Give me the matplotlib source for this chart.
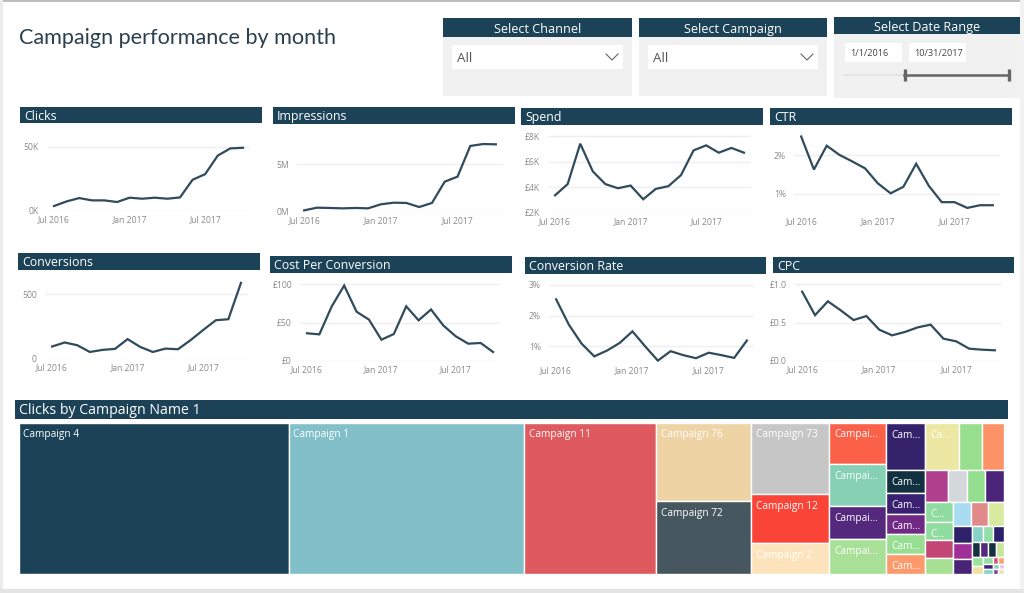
import matplotlib
matplotlib.use("Agg")
import matplotlib.pyplot as plt
from matplotlib.patches import Rectangle

plt.rcParams['font.family'] = ['Open Sans', 'DejaVu Sans']

W, H = 1024, 593
NAVY = "#1c4257"
LINE = "#2f4b5c"
GRID = "#efefef"
TICK = "#8a8a8a"

months = list(range(16))
month_ticks = [0, 6, 12]
month_labels = ["Jul 2016", "Jan 2017", "Jul 2017"]

clicks = [3.9, 7.5, 10.1, 8.3, 8.3, 7.0, 10.4, 9.6, 10.4, 9.6, 10.6, 24.4, 28.8, 43.3, 48.9, 49.4]
impressions = [0.17, 0.45, 0.42, 0.38, 0.42, 0.38, 0.8, 0.97, 0.94, 0.52, 0.94, 3.16, 3.68, 6.88, 7.08, 7.05]
spend = [3.38, 4.25, 7.4, 5.24, 4.25, 3.93, 4.14, 3.07, 3.88, 4.09, 4.95, 6.88, 7.27, 6.7, 7.07, 6.7]
ctr = [2.49, 1.63, 2.25, 2.01, 1.84, 1.66, 1.27, 1.01, 1.18, 1.78, 1.2, 0.78, 0.78, 0.63, 0.7, 0.7]
conversions = [96, 127, 106, 54, 70, 78, 153, 93, 54, 80, 75, 145, 223, 298, 306, 585]
cost_per_conv = [36, 34.6, 71, 98, 64, 53.7, 27.7, 35, 71, 52.8, 66.9, 46, 32, 22.5, 23.4, 11.7]
conv_rate = [2.53, 1.7, 1.08, 0.66, 0.85, 1.1, 1.48, 0.99, 0.52, 0.83, 0.7, 0.6, 0.78, 0.7, 0.61, 1.18]
cpc = [0.9, 0.595, 0.775, 0.658, 0.532, 0.584, 0.407, 0.333, 0.377, 0.437, 0.472, 0.29, 0.255, 0.16, 0.147, 0.139]

# title, series, ticks, tick labels, header box, grid x range, y px of first/last tick, bottom px of axes
panels = [
    ("Clicks", clicks, [0, 50], ["0K", "50K"], (20, 107, 262, 123), (47, 250), 211, 147, 211),
    ("Impressions", impressions, [0, 5], ["0M", "5M"], (273, 107, 515, 124), (297, 503), 212, 164, 212),
    ("Spend", spend, [2, 4, 6, 8], ["£2K", "£4K", "£6K", "£8K"], (521, 108, 763, 125), (548, 751), 213, 136, 213),
    ("CTR", ctr, [1, 2], ["1%", "2%"], (770, 108, 1012, 125), (794, 1000), 193.7, 155.3, 213),
    ("Conversions", conversions, [0, 500], ["0", "500"], (18, 253, 260, 270), (45, 248), 359, 294, 359),
    ("Cost Per Conversion", cost_per_conv, [0, 50, 100], ["£0", "£50", "£100"], (270, 256, 512, 273), (300, 500), 361, 284, 361),
    ("Conversion Rate", conv_rate, [1, 2, 3], ["1%", "2%", "3%"], (525, 257, 766, 274), (549, 754), 346, 285, 362),
    ("CPC", cpc, [0, 0.5, 1.0], ["£0.0", "£0.5", "£1.0"], (773, 257, 1014, 273), (795, 1002), 361, 284, 361),
]

# treemap: clicks per campaign, nested as alternating columns and rows
treemap = ("h", [
    10125, 8812, 4950,
    ("v", [1852, 1710]),
    ("v", [1384, 955, 585]),
    ("v", [584, 598, 470, 484]),
    ("v", [458, 224, 205, 195, 195, 185]),
    ("v", [
        ("h", [400, 270, 258]),
        ("h", [178, 147, 140, 147]),
        ("h", [
            ("v", [135, 128, 115, 108]),
            ("v", [
                ("h", [114, 102, 96]),
                ("h", [
                    ("v", [81, 76, 71]),
                    ("v", [
                        ("h", [41, 41, 41]),
                        ("h", [30, 30, 30, 30]),
                        ("h", [
                            ("v", [25, 20]),
                            ("v", [18, 12, 12]),
                            ("v", [
                                ("h", [10, 10]),
                                ("h", [8, 6]),
                                ("h", [6, 6]),
                            ]),
                        ]),
                    ]),
                ]),
            ]),
        ]),
    ]),
])
tree_colors = [
    "#1c4257", "#82c0c9", "#df5a5e",
    "#eed3a4", "#47575f",
    "#c6c6c6", "#fb4438", "#fde3bb",
    "#fb6049", "#86d0b4", "#54287c", "#a9e097",
    "#34226a", "#12303f", "#3a2071", "#702a86", "#97de92", "#fc9a6b",
    "#ece7a3", "#97de8e", "#fc9366",
    "#b03f8e", "#d5d8da", "#94de90", "#4a2579",
    "#90dca0", "#90dca0", "#c34775", "#a7e093",
    "#a9dcf0", "#e08a8a", "#d8eaa0",
    "#2f2169", "#9f3098", "#472474",
    "#86d2c4", "#94dea8", "#2a1f68",
    "#15303f", "#54287c", "#15303f", "#c5e79a",
    "#9be39a", "#efe2a0",
    "#94dea8", "#3f2578", "#86d2c8",
    "#d6506e", "#fca36c",
    "#86d2c4", "#e9c3df",
    "#7a3f92", "#e9e3b0",
]
tree_labels = [
    "Campaign 4", "Campaign 1", "Campaign 11",
    "Campaign 76", "Campaign 72",
    "Campaign 73", "Campaign 12", "Campaign 2",
    "Campai...", "Campai...", "Campai...", "Campai...",
    "Cam...", "Cam...", "Cam...", "Cam...", "Cam...", "Cam...",
    "Ca...", "", "",
    "", "", "", "",
    "C...", "C...",
]


def flatten_layout(node, x, y, w, h, out):
    if not isinstance(node, tuple):
        out.append((x, y, w, h))
        return
    direction, children = node
    total = sum(node_total(c) for c in children)
    for c in children:
        share = node_total(c) / total
        if direction == "h":
            flatten_layout(c, x, y, w * share, h, out)
            x += w * share
        else:
            flatten_layout(c, x, y, w, h * share, out)
            y += h * share


def node_total(node):
    if isinstance(node, tuple):
        return sum(node_total(c) for c in node[1])
    return node


fig = plt.figure(figsize=(W / 100, H / 100), dpi=100, facecolor="white")

# page furniture in pixel coordinates
page = fig.add_axes([0, 0, 1, 1])
page.set_xlim(0, W)
page.set_ylim(H, 0)
page.axis("off")


def box(x0, y0, x1, y1, color, **kw):
    page.add_patch(Rectangle((x0, y0), x1 - x0, y1 - y0, facecolor=color, edgecolor="none", **kw))


box(0, 0, W, 1.5, "#bdbdbd")
box(0, 0, 2.5, H, "#ececec")
box(1020, 0, W, H, "#f2f2f2")
box(0, 589, W, H, "#e4e4e4")

page.text(19, 38.5, "Campaign performance by month", fontsize=15.6, color="#2b3f4e",
          va="center", ha="left", family=['Lato', 'DejaVu Sans'])


def slicer(x0, y0, x1, y1, head_bottom, title):
    box(x0, y0, x1, y1, "#f1f1f1")
    box(x0, y0, x1, head_bottom, NAVY)
    page.text((x0 + x1) / 2, (y0 + head_bottom) / 2 + 2, title, color="white", fontsize=9.1, ha="center", va="center")


slicer(443, 18, 632, 96, 37, "Select Channel")
slicer(639, 18, 827, 96, 37, "Select Campaign")
slicer(834, 17, 1020, 98, 34, "Select Date Range")

for x0, x1 in [(452, 623), (648, 818)]:
    box(x0, 45, x1, 69, "white")
    page.text(x0 + 5, 58.5, "All", fontsize=9.6, color="#555555", va="center")
    page.plot([x1 - 17, x1 - 11, x1 - 5], [54, 60, 54], color="#666666", lw=0.8)

for x0, x1, label in [(845, 902, "1/1/2016"), (909, 966, "10/31/2017")]:
    box(x0, 43, x1, 62, "white")
    page.text(x0 + 5, 53.5, label, fontsize=6.6, color="#444444", va="center")

page.plot([844, 1010], [75, 75], color="#e3e3e3", lw=1.2)
page.plot([904, 1009], [75, 75], color="#666666", lw=1.8)
for x in [904.5, 1009]:
    page.plot([x, x], [69, 81], color="#666666", lw=2.4, solid_capstyle="butt")

# small multiples
for title, series, ticks, tlabels, head, gx, y_first, y_last, y_bottom in panels:
    x0, y0, x1, y1 = head
    box(x0, y0, x1, y1, NAVY)
    page.text(x0 + 4, (y0 + y1) / 2 + 1.3, title, color="white", fontsize=8.9, va="center")

    y_top = y1 + 4
    ax = fig.add_axes([gx[0] / W, 1 - y_bottom / H, (gx[1] - gx[0]) / W, (y_bottom - y_top) / H])
    ax.patch.set_alpha(0)
    per_px = (ticks[-1] - ticks[0]) / (y_first - y_last)
    ax.set_ylim(ticks[0] - (y_bottom - y_first) * per_px, ticks[0] + (y_first - y_top) * per_px)
    ax.set_xlim(-0.56, 15.56)
    ax.plot(months, series, color=LINE, lw=1.6, solid_joinstyle="miter", zorder=3)
    ax.set_yticks(ticks)
    ax.set_yticklabels(tlabels)
    ax.set_xticks(month_ticks)
    ax.set_xticklabels(month_labels)
    ax.grid(axis="y", color=GRID, lw=1)
    ax.set_axisbelow(True)
    ax.tick_params(length=0, labelsize=6.2, labelcolor=TICK)
    ax.tick_params(axis="y", pad=5.8)
    ax.tick_params(axis="x", pad=3)
    for spine in ax.spines.values():
        spine.set_visible(False)

# treemap
box(15, 400, 1008, 419, NAVY)
page.text(19, 411, "Clicks by Campaign Name 1", color="white", fontsize=10.2, va="center")

tree_ax = fig.add_axes([18.5 / W, 1 - 573.5 / H, 985.5 / W, 151 / H])
tree_ax.set_xlim(0, 1)
tree_ax.set_ylim(1, 0)
tree_ax.axis("off")

cells = []
flatten_layout(treemap, 0, 0, 1, 1, cells)
for i, (x, y, w, h) in enumerate(cells):
    tree_ax.add_patch(Rectangle((x, y), w, h, facecolor=tree_colors[i], edgecolor="white", lw=1.0))
    if i < len(tree_labels) and tree_labels[i]:
        tree_ax.text(x + 4.5 / 985.5, y + 12.5 / 151, tree_labels[i], color="white", fontsize=7.3, va="center")

fig.savefig("out.png", dpi=100)
